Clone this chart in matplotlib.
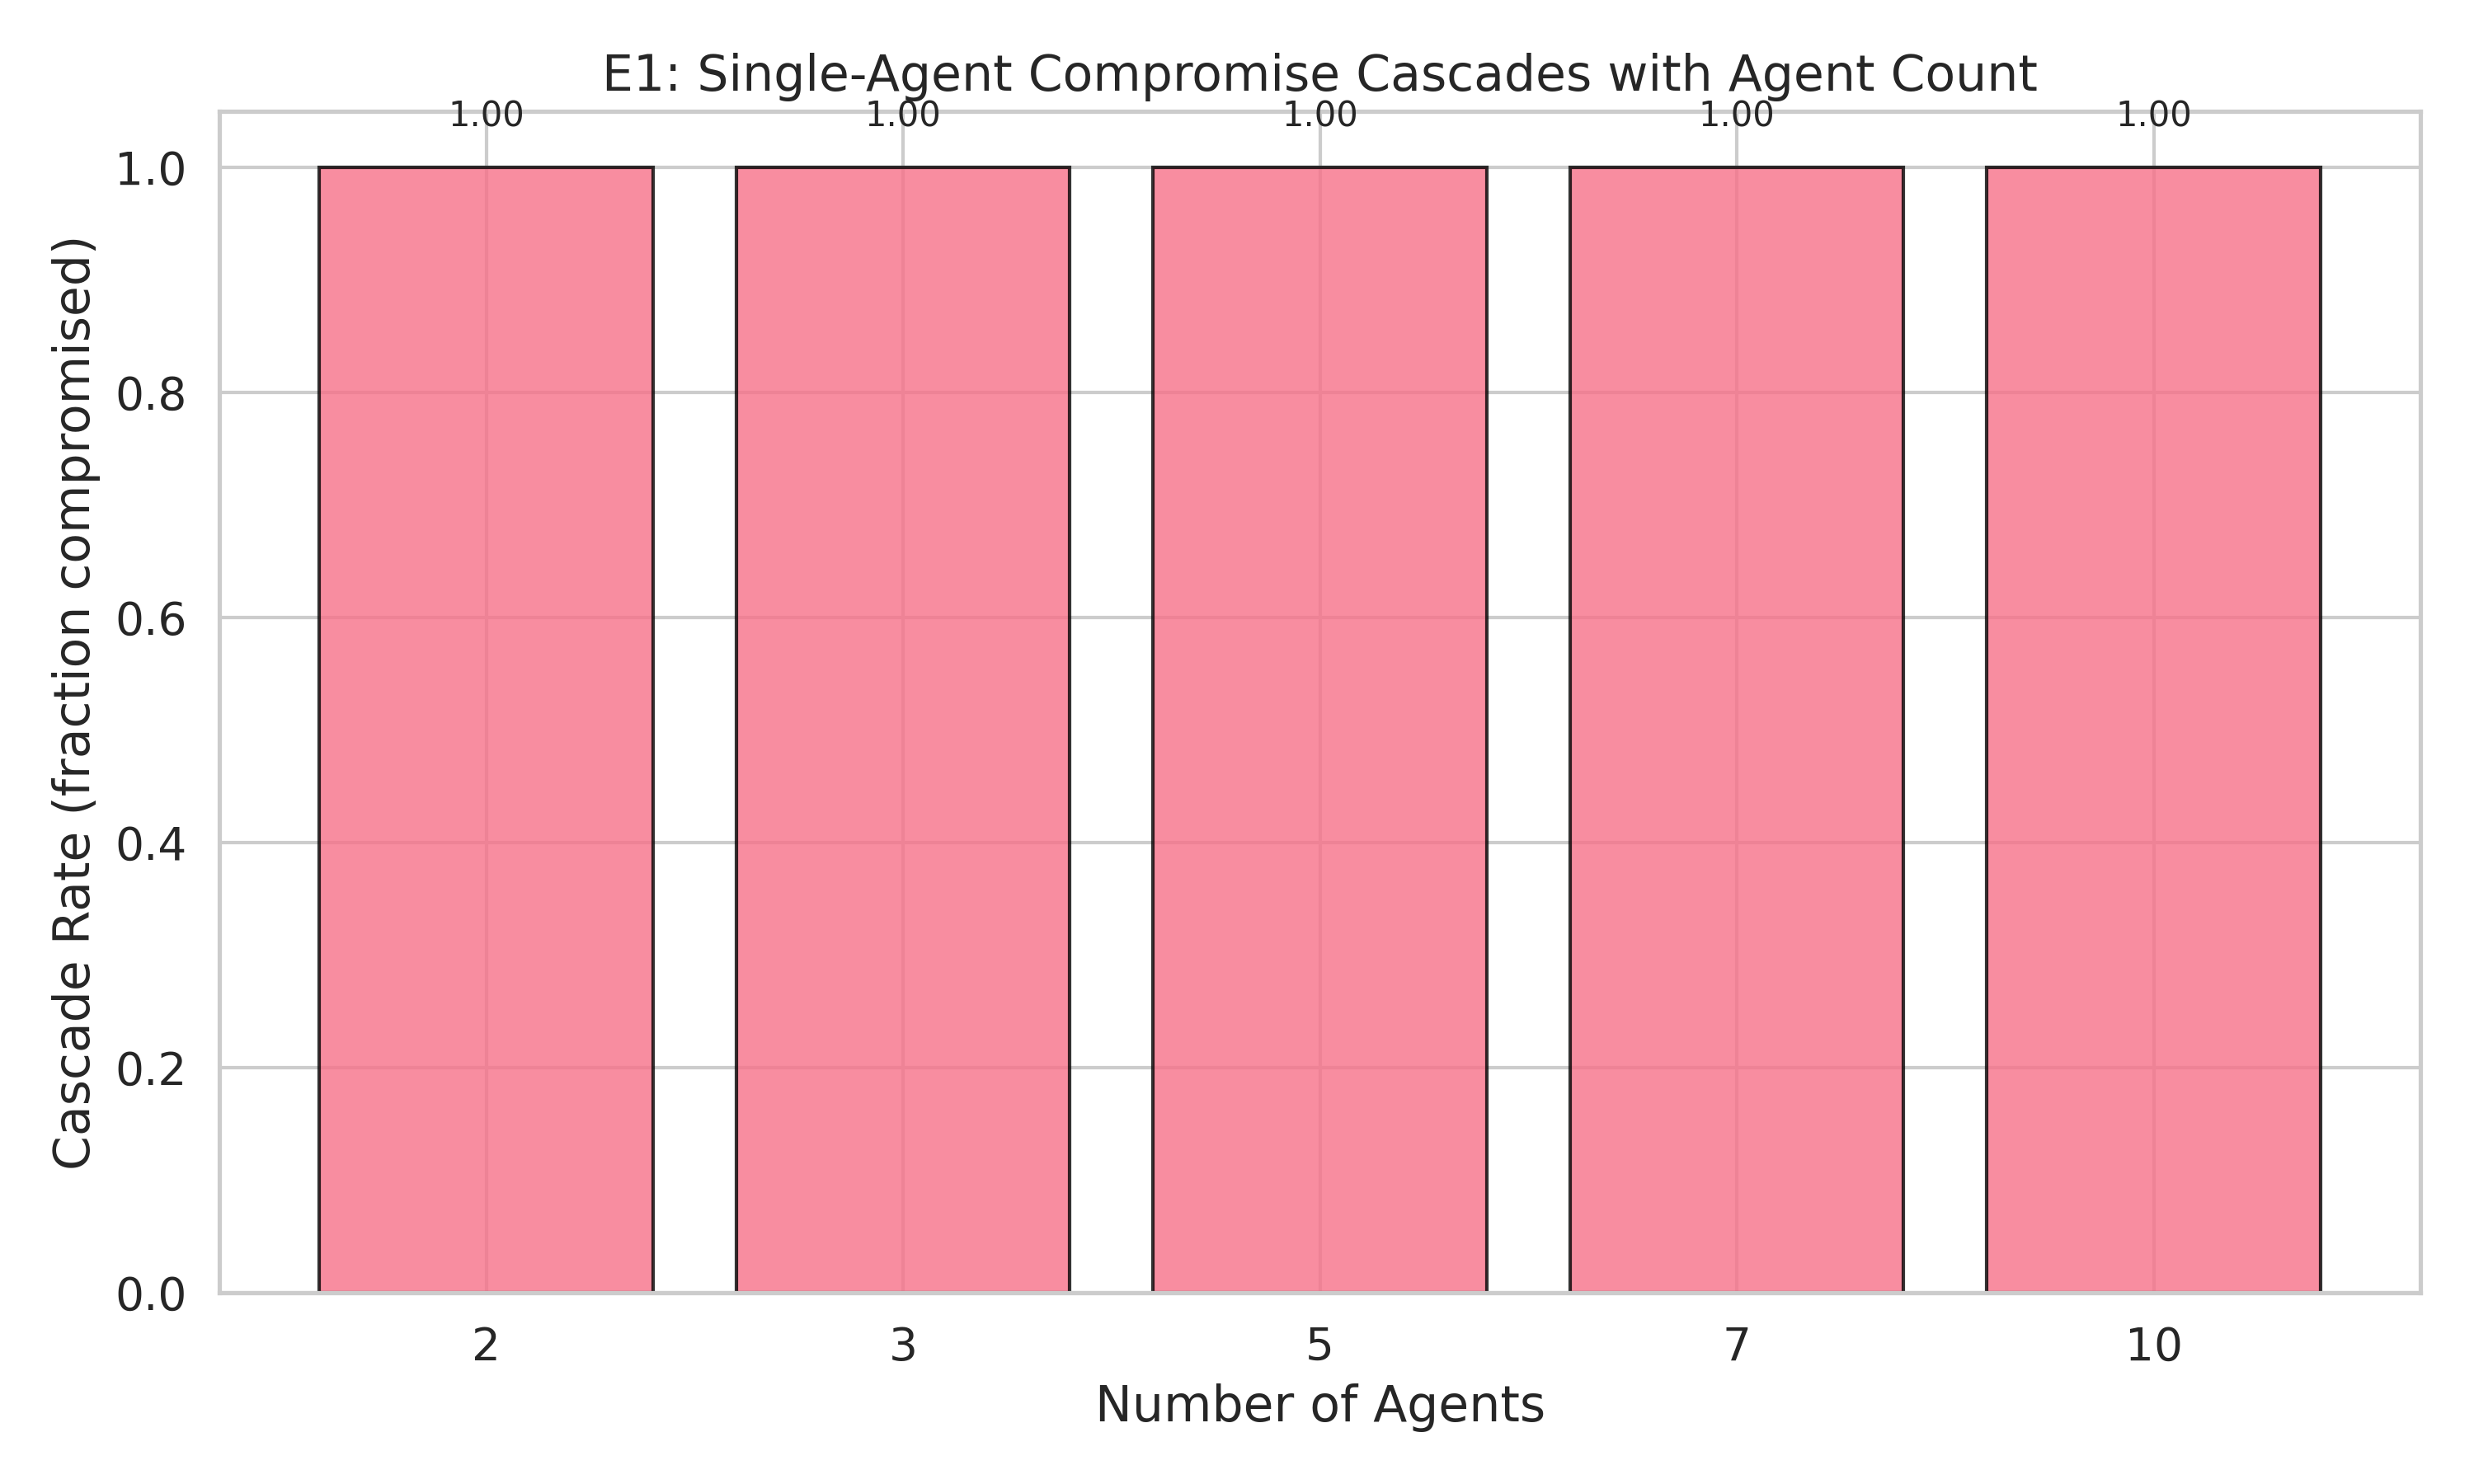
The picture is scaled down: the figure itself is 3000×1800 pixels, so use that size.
import numpy as np
import matplotlib
matplotlib.use('Agg')
import matplotlib.pyplot as plt
import seaborn as sns

# === 数据 ===
agent_counts = ['2', '3', '5', '7', '10']
cascade_rate = [1.00, 1.00, 1.00, 1.00, 1.00]

sns.set_theme(style='whitegrid', font_scale=1.2)
sns.set_palette('husl')
plt.rcParams['font.family'] = ['DejaVu Sans']

fig, ax = plt.subplots(figsize=(10, 6))
x = np.arange(len(agent_counts))
bars = ax.bar(x, cascade_rate, color=sns.color_palette('husl')[0],
              alpha=0.8, edgecolor='black', linewidth=1)

# 柱顶数值标注
for b, v in zip(bars, cascade_rate):
    ax.text(b.get_x() + b.get_width() / 2, v + 0.03, f'{v:.2f}',
            ha='center', va='bottom', fontsize=10)

ax.set_xticks(x)
ax.set_xticklabels(agent_counts)
ax.set_xlabel('Number of Agents')
ax.set_ylabel('Cascade Rate (fraction compromised)')
ax.set_title('E1: Single-Agent Compromise Cascades with Agent Count')

plt.tight_layout()
plt.savefig('out.png', dpi=300)
plt.close()
